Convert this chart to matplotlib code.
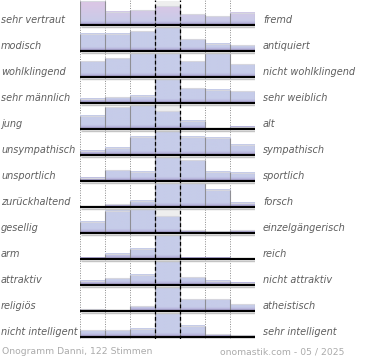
import numpy as np
import matplotlib
matplotlib.use("Agg")
import matplotlib.pyplot as plt
from matplotlib.colors import to_rgb
from matplotlib.transforms import blended_transform_factory

# word pairs (left pole / right pole)
left_labels = ["sehr vertraut", "modisch", "wohlklingend", "sehr männlich", "jung",
               "unsympathisch", "unsportlich", "zurückhaltend", "gesellig", "arm",
               "attraktiv", "religiös", "nicht intelligent"]
right_labels = ["fremd", "antiquiert", "nicht wohlklingend", "sehr weiblich", "alt",
                "sympathisch", "sportlich", "forsch", "einzelgängerisch", "reich",
                "nicht attraktiv", "atheistisch", "sehr intelligent"]

# bar heights per row, in % of the strongest answer of that row (7 steps)
r_vertraut = [100, 55, 61, 79, 45, 37, 51]
r_modisch = [72, 72, 83, 100, 49, 31, 24]
r_klang = [65, 79, 100, 100, 65, 100, 54]
r_maennlich = [18, 24, 31, 100, 61, 55, 48]
r_jung = [55, 90, 100, 74, 35, 0, 10]
r_sympathisch = [17, 31, 77, 100, 77, 72, 42]
r_sportlich = [14, 45, 39, 100, 86, 39, 35]
r_forsch = [0, 12, 27, 100, 100, 71, 18]
r_gesellig = [46, 93, 100, 70, 12, 8, 12]
r_reich = [6, 21, 42, 100, 6, 6, 0]
r_attraktiv = [18, 28, 42, 100, 32, 18, 10]
r_religioes = [8, 4, 19, 100, 49, 49, 28]
r_intelligent = [28, 28, 35, 100, 46, 12, 8]

rows = [r_vertraut, r_modisch, r_klang, r_maennlich, r_jung, r_sympathisch, r_sportlich,
        r_forsch, r_gesellig, r_reich, r_attraktiv, r_religioes, r_intelligent]

footer_left = "Onogramm Danni, 122 Stimmen"
footer_right = "onomastik.com - 05 / 2025"

W, H = 370, 360
ROW = 26.0          # pixels per row
FULL = 24 / ROW     # full bar height in row units
px = 1 / ROW

fig = plt.figure(figsize=(W / 100, H / 100), dpi=100)
ax = fig.add_axes([80 / W, 1 - 339 / H, 175 / W, 339 / H])

c_blue = np.array(to_rgb("#c6cce9"))
c_pink = np.array(to_rgb("#dcc6e5"))
c_purple = np.array(to_rgb("#a99dd0"))


def bar_image(top, base, row_top, first_row):
    # vertical colour gradient of one bar, sampled in absolute row position
    ys = np.linspace(top, base, 40)
    t = (ys - row_top) / (base - row_top)
    if first_row:
        col = c_pink[None, :] * (1 - t[:, None]) + c_blue[None, :] * t[:, None]
    else:
        col = np.repeat(c_blue[None, :], len(ys), axis=0)
    # purple tint near the baseline
    d = np.clip((base - ys) / (4 * px), 0, 1)
    col = col * d[:, None] + c_purple[None, :] * (1 - d[:, None])
    return col[:, None, :]


for i, vals in enumerate(rows):
    base = i + 25 / ROW
    row_top = base - FULL
    hs = [v / 100 * FULL for v in vals]

    # light grey field behind the neutral column
    ax.fill_between([3, 4], row_top, base, color="#eeeeee", lw=0, zorder=1)

    for k, h in enumerate(hs):
        if h <= 0:
            continue
        img = bar_image(base - h, base, row_top, i == 0)
        ax.imshow(img, extent=(k, k + 1, base, base - h), aspect="auto",
                  interpolation="bilinear", origin="upper", zorder=2)
        ax.hlines(base - h, k, k + 1, color="#d6d6de", lw=0.8, zorder=3)

    # side edges of the bars
    for k in range(8):
        left = hs[k - 1] if k > 0 else 0
        right = hs[k] if k < 7 else 0
        hh = max(left, right)
        if hh > 0:
            ax.vlines(k, base - hh, base, color="#8f8f95", lw=0.8, zorder=3)

    ax.hlines(base + 1.5 * px, 0.05, 7.05, color="#c4c4c4", lw=1.0, zorder=4)
    ax.hlines(base, 0, 7, color="black", lw=1.6, zorder=5)

# column guides
for k in [0, 1, 2, 5, 6, 7]:
    ax.axvline(k, color="#8a8a8a", lw=0.7, ls=(0, (1, 1.5)), zorder=0.5)
for k in [3, 4]:
    ax.axvline(k, color="black", lw=0.9, ls=(0, (3, 2)), zorder=4.5)

ax.set_xlim(0, 7)
ax.set_ylim(339 / ROW, 0)
ax.axis("off")

tr = blended_transform_factory(fig.transFigure, ax.transData)
for i in range(len(rows)):
    y = i + 25 / ROW - 5 * px
    ax.text(1 / W, y, left_labels[i], transform=tr, fontsize=7, style="italic",
            color="#5e5e5e", va="center", ha="left", clip_on=False)
    ax.text(263 / W, y, right_labels[i], transform=tr, fontsize=7, style="italic",
            color="#5e5e5e", va="center", ha="left", clip_on=False)

fig.text(2 / W, 1 - 352 / H, footer_left, fontsize=6.7, color="#ababab", va="center")
fig.text(220 / W, 1 - 352 / H, footer_right, fontsize=6.7, color="#ababab", va="center")

fig.savefig("out.png", dpi=100)
